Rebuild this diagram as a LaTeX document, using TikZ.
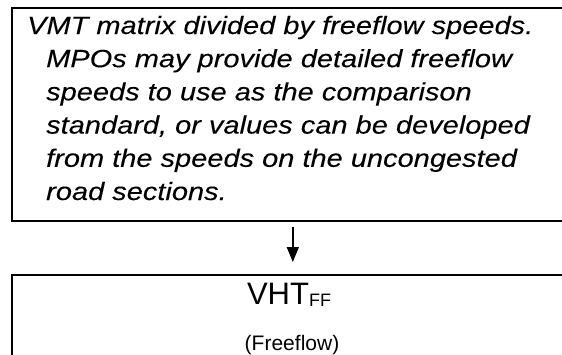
\documentclass[tikz,border=0pt]{standalone}
\usepackage{fontspec}
\setmainfont{Liberation Sans}
\newfontfamily\bodyit[FakeStretch=1.16,FakeBold=0.12]{Liberation Sans}
\newfontfamily\bodyup{Liberation Sans}
\usetikzlibrary{arrows.meta}
\tikzset{
  x=1pt, y=1pt,
  box/.style={draw=black, line width=1.6pt, rectangle, inner sep=0pt, anchor=north west},
  note/.style={inner sep=0pt, align=left, anchor=base west,
    font=\bodyit\itshape\fontsize{25}{33.2}\selectfont},
  label/.style={inner sep=0pt, anchor=base},
  arr/.style={line width=1.4pt, -{Triangle[width=12pt,length=15pt]}},
}
\begin{document}
\begin{tikzpicture}
\useasboundingbox (0,0) rectangle (562,354);
\clip (0,0) rectangle (562,354);
\node[box, minimum width=562pt, minimum height=213pt] (top) at (11,347) {};
\node[note] (toptext) at (27,154) {VMT matrix divided by freeflow speeds.\\
\hspace*{19pt}MPOs may provide detailed freeflow\\
\hspace*{19pt}speeds to use as the comparison\\
\hspace*{19pt}standard, or values can be developed\\
\hspace*{19pt}from the speeds on the uncongested\\
\hspace*{19pt}road sections.};
\node[box, minimum width=562pt, minimum height=130pt] (bot) at (11,80) {};
\node[label, font=\bodyup\fontsize{31}{31}\selectfont] (vht) at (289,50)
  {VHT\raisebox{-2pt}{\fontsize{18}{18}\selectfont FF}};
\node[label, font=\bodyup\fontsize{21}{21}\selectfont] (ff) at (292,4) {(Freeflow)};
\draw[arr, shorten <=5pt, shorten >=12pt] (top.south) -- (bot.north);
\end{tikzpicture}
\end{document}
